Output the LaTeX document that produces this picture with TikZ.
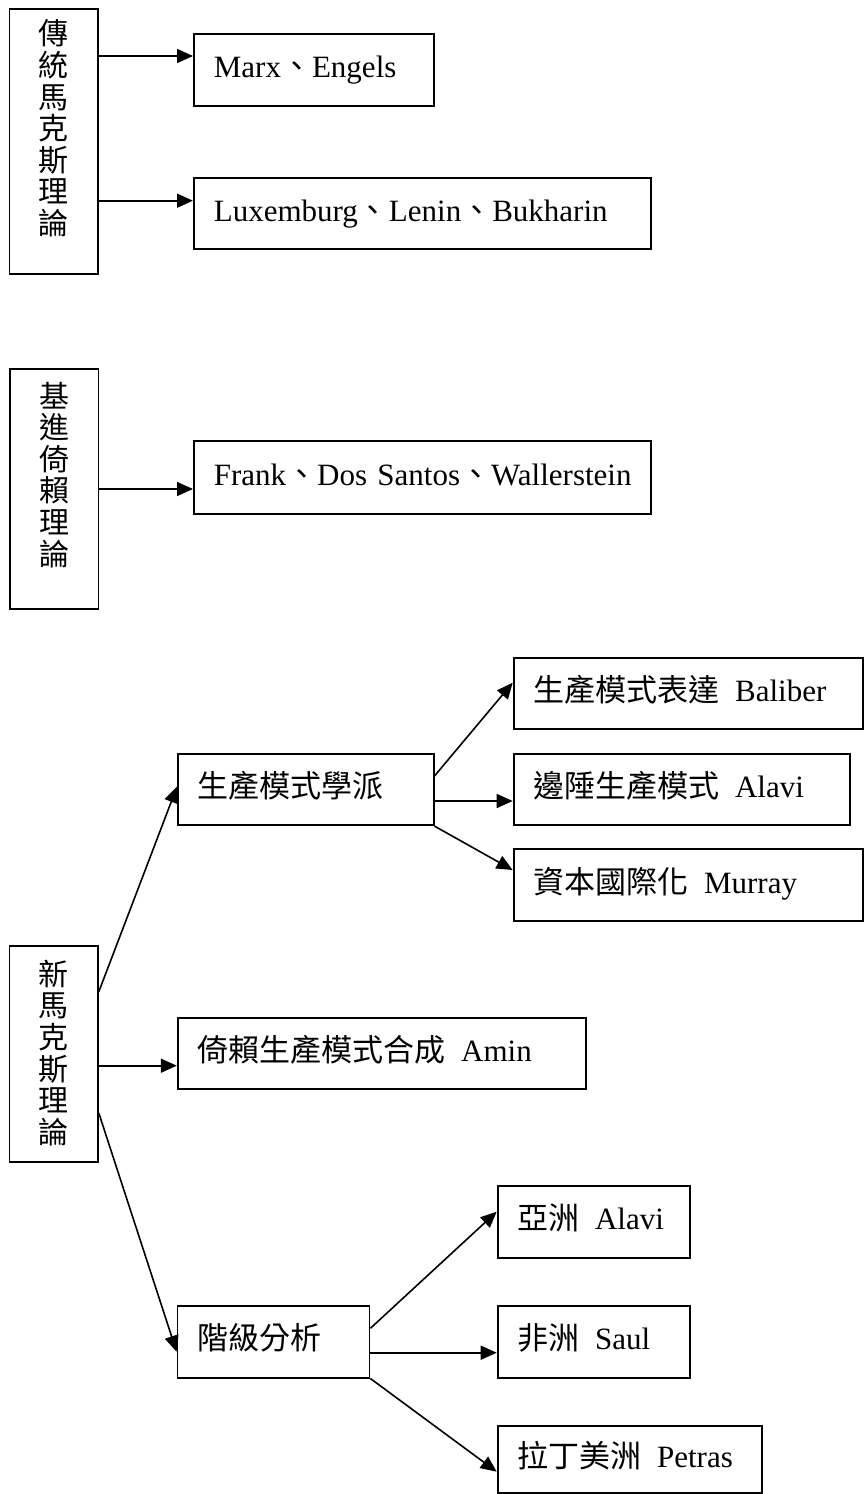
\documentclass[tikz,border=0pt]{standalone}
\usepackage{fontspec}
\setmainfont{Liberation Serif}
\newfontfamily\cjk{Noto Sans CJK TC}
\usetikzlibrary{arrows.meta}
\newcommand\zh[1]{{\cjk #1}}
\newcommand\vtxt[3]{\parbox[c][#1][t]{60pt}{\centering\fontsize{30pt}{31.6pt}\selectfont\cjk\vspace*{#2}#3\par}}
\tikzset{
  hbox/.style={draw, line width=1.8pt, inner xsep=20pt, inner ysep=0pt, anchor=north west, align=left,
    font=\fontsize{31pt}{36pt}\selectfont, text height=23pt, text depth=7pt},
  vbox/.style={draw, line width=1.8pt, inner sep=0pt, anchor=north west},
  arr/.style={line width=1.6pt, -{Triangle[length=16pt,width=14pt]}}
}
\begin{document}
\begin{tikzpicture}[x=1pt,y=-1pt]
\useasboundingbox (0,0) rectangle (864,1494);
% group 1
\node[vbox, minimum width=88.5pt] (b1) at (8.5,8) {\vtxt{265pt}{11pt}{傳\\統\\馬\\克\\斯\\理\\論}};
\node[hbox, minimum width=240pt, minimum height=72pt, text width=200pt] (marx) at (193,33) {\mbox{Marx\zh{、}Engels}};
\node[hbox, minimum width=457pt, minimum height=71pt, text width=417pt] (lux) at (193,177) {\mbox{Luxemburg\zh{、}Lenin\zh{、}Bukharin}};
\draw[arr] ([yshift=-48pt]b1.north east) -- ([yshift=-23pt]marx.north west);
\draw[arr] ([yshift=-192.7pt]b1.north east) -- ([yshift=-23.7pt]lux.north west);
% group 2
\node[vbox, minimum width=88.5pt] (b2) at (9,368) {\vtxt{240pt}{13pt}{基\\進\\倚\\賴\\理\\論}};
\node[hbox, minimum width=457pt, minimum height=73pt, text width=417pt] (frank) at (193,440) {\mbox{Frank\zh{、}Dos Santos\zh{、}Wallerstein}};
\draw[arr] ([yshift=-121pt]b2.north east) -- ([yshift=-49pt]frank.north west);
% group 3
\node[vbox, minimum width=88.5pt] (b3) at (8.5,945) {\vtxt{216pt}{14pt}{新\\馬\\克\\斯\\理\\論}};
\node[hbox, minimum width=255.7pt, minimum height=71.6pt, text width=215.7pt] (mop) at (177,752.7) {\zh{生產模式學派}};
\node[hbox, minimum width=349.3pt, minimum height=71.6pt, text width=309.3pt] (baliber) at (512.7,656.7) {\mbox{\zh{生產模式表達}\hspace{0.5em}Baliber}};
\node[hbox, minimum width=336.3pt, minimum height=71.6pt, text width=296.3pt] (alavi) at (512.7,752.7) {\mbox{\zh{邊陲生產模式}\hspace{0.5em}Alavi}};
\node[hbox, minimum width=349.3pt, minimum height=71.6pt, text width=309.3pt] (murray) at (512.7,848.3) {\mbox{\zh{資本國際化}\hspace{0.5em}Murray}};
\node[hbox, minimum width=408.5pt, minimum height=71.6pt, text width=368.5pt] (amin) at (176.8,1016.7) {\mbox{\zh{倚賴生產模式合成}\hspace{0.5em}Amin}};
\node[hbox, minimum width=192pt, minimum height=71.7pt, text width=152pt] (class) at (176.6,1305) {\zh{階級分析}};
\node[hbox, minimum width=192.3pt, minimum height=71.7pt, text width=152.3pt] (asia) at (496.7,1185) {\mbox{\zh{亞洲}\hspace{0.5em}Alavi}};
\node[hbox, minimum width=192.3pt, minimum height=71.7pt, text width=152.3pt] (saul) at (496.7,1305) {\mbox{\zh{非洲}\hspace{0.5em}Saul}};
\node[hbox, minimum width=264.3pt, minimum height=67pt, text width=224.3pt] (petras) at (496.7,1425) {\mbox{\zh{拉丁美洲}\hspace{0.5em}Petras}};
\draw[arr] ([yshift=-46.7pt]b3.north east) -- ([yshift=-34pt]mop.north west);
\draw[arr] ([yshift=-120.7pt]b3.north east) -- ([yshift=-49pt]amin.north west);
\draw[arr] ([yshift=-168pt]b3.north east) -- ([yshift=-46.7pt]class.north west);
\draw[arr] ([yshift=-23.3pt]mop.north east) -- ([yshift=-26pt]baliber.north west);
\draw[arr] ([yshift=-48.3pt]mop.north east) -- ([yshift=-48.3pt]alavi.north west);
\draw[arr] (mop.south east) -- ([yshift=-21.7pt]murray.north west);
\draw[arr] ([yshift=-23.3pt]class.north east) -- ([yshift=-26.7pt]asia.north west);
\draw[arr] ([yshift=-47.7pt]class.north east) -- ([yshift=-47.7pt]saul.north west);
\draw[arr] (class.south east) -- ([yshift=-46.7pt]petras.north west);
\end{tikzpicture}
\end{document}
